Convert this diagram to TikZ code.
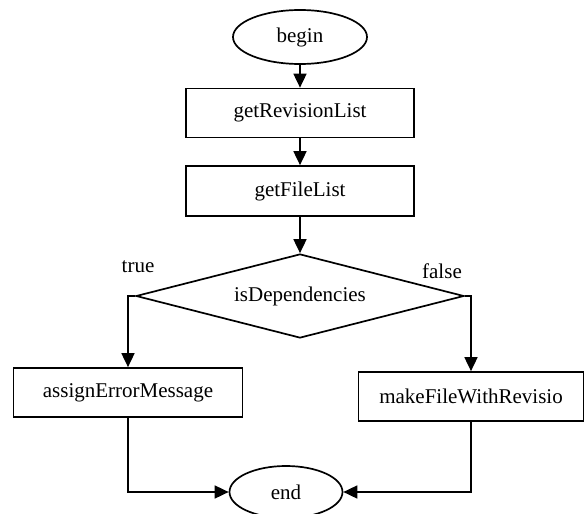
\documentclass[tikz,border=0pt]{standalone}
\usepackage{fontspec}
\setmainfont{Liberation Serif}
\usetikzlibrary{shapes.geometric, arrows.meta}

\begin{document}
\begin{tikzpicture}[x = 0.5pt, y = -0.5pt]
    \tikzset{
        term/.style = {
            draw,
            ellipse,
            line width = 0.85pt,
            inner sep = 0pt
        },
        proc/.style = {
            draw,
            rectangle,
            line width = 0.85pt,
            inner sep = 0pt,
            minimum height = 24.5pt
        },
        cond/.style = {
            draw,
            diamond,
            line width = 0.85pt,
            inner sep = 0pt,
            aspect = 3.9,
            minimum width = 164pt,
            minimum height = 42pt
        },
        link/.style = {
            line width = 0.85pt,
            -{Triangle[length = 7pt, width = 6.5pt]}
        },
        every node/.style = {font = \fontsize{10.5}{12}\selectfont}
    }

    \useasboundingbox (0, 0) rectangle (585, 514);

    \node[term, minimum width = 67pt, minimum height = 27pt] (begin) at (300, 37) {begin};
    \node[proc, minimum width = 114pt] (revs) at (300, 113) {getRevisionList};
    \node[proc, minimum width = 114pt, minimum height = 25pt] (files) at (300, 191) {getFileList};
    \node[cond] (dep) at (300, 296) {isDependencies};
    \node (yes) at (138, 267) {true};
    \node (no) at (442, 271) {false};
    \node[proc, minimum width = 114.5pt] (err) at (128, 392.5) {assignErrorMessage};
    \node[proc, minimum width = 112.5pt] (make) at (471, 396.5) {makeFileWithRevisio};
    \node[term, minimum width = 56.5pt, minimum height = 26pt] (stop) at (286, 492) {end};

    \draw[link] (begin) -- (revs);
    \draw[link] (revs) -- (files);
    \draw[link] (files) -- (dep);
    \draw[link] (dep.west) -| (err.north);
    \draw[link] (dep.east) -| (make.north);
    \draw[link] (err.south) |- (stop.west);
    \draw[link] (make.south) |- (stop.east);

\end{tikzpicture}
\end{document}
